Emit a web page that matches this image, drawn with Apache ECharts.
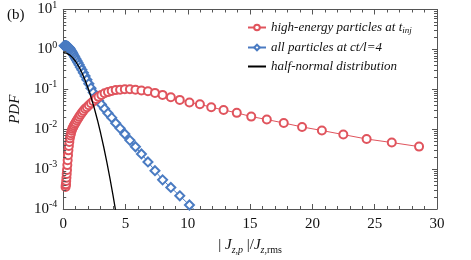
<!DOCTYPE html>
<html><head><meta charset="utf-8">
<script src="https://cdn.jsdelivr.net/npm/echarts@6/dist/echarts.min.js"></script>
<style>html,body{margin:0;padding:0;background:#fff}#c{width:471px;height:260px}</style>
</head><body><div id="c"></div>
<script>
// ---- data ----
const redX = [0.188,0.204,0.221,0.239,0.259,0.280,0.303,0.329,0.356,0.385,0.417,0.452,0.490,0.530,0.574,0.622,0.673,0.729,0.790,0.855,0.926,1.003,1.087,1.177,1.274,1.380,1.495,1.619,1.753,1.899,2.056,2.227,2.412,2.612,2.829,3.063,3.318,3.593,3.891,4.214,4.564,4.943,5.353,5.797,6.278,6.800,7.364,7.975,8.637,9.354,10.13,10.97,11.88,12.87,13.93,15.09,16.34,17.70,19.17,20.76,22.48,24.35,26.37,28.56];
const redPdf = [3.55e-4,3.98e-4,4.17e-4,5.01e-4,6.03e-4,7.59e-4,9.55e-4,1.26e-3,1.66e-3,2.24e-3,2.95e-3,3.80e-3,4.79e-3,5.89e-3,6.92e-3,7.94e-3,9.12e-3,1.02e-2,1.12e-2,1.23e-2,1.35e-2,1.48e-2,1.66e-2,1.82e-2,2.04e-2,2.29e-2,2.57e-2,2.88e-2,3.24e-2,3.55e-2,3.98e-2,4.47e-2,5.01e-2,5.75e-2,6.46e-2,7.24e-2,7.94e-2,8.51e-2,9.12e-2,9.55e-2,9.77e-2,0.100,0.100,0.0977,0.0933,0.0891,0.0813,0.0724,0.0631,0.0543,0.0469,0.0420,0.0356,0.0303,0.0257,0.0207,0.0175,0.0143,0.0114,0.00927,0.00733,0.00568,0.00463,0.00366];
const blueX = [0.092,0.099,0.108,0.117,0.126,0.137,0.148,0.160,0.174,0.188,0.204,0.221,0.239,0.259,0.280,0.303,0.329,0.356,0.385,0.417,0.452,0.490,0.530,0.574,0.622,0.673,0.729,0.790,0.855,0.926,1.003,1.087,1.177,1.274,1.380,1.495,1.619,1.753,1.899,2.056,2.227,2.412,2.612,2.829,3.063,3.318,3.593,3.891,4.214,4.564,4.943,5.353,5.797,6.278,6.800,7.364,7.975,8.637,9.354,10.13,10.97];
const bluePdf = [1.23,1.23,1.23,1.225,1.225,1.22,1.22,1.22,1.215,1.21,1.21,1.21,1.205,1.20,1.195,1.19,1.18,1.17,1.155,1.14,1.12,1.09,1.05,1.0,0.944,0.891,0.832,0.767,0.708,0.646,0.582,0.525,0.468,0.412,0.359,0.309,0.260,0.214,0.174,0.138,0.107,0.0832,0.0661,0.0525,0.0417,0.0324,0.0251,0.0195,0.0141,0.0105,0.00759,0.00525,0.00363,0.0024,0.00151,0.000912,0.000537,0.000347,0.000214,0.000126,0.0000708];
const halfNormX = [0,0.25,0.5,0.75,1.0,1.25,1.5,1.75,2.0,2.25,2.5,2.75,3.0,3.25,3.5,3.75,4.0,4.25];
const halfNormPdf = [0.832,0.805,0.731,0.622,0.497,0.372,0.261,0.171,0.106,0.0611,0.0331,0.0168,0.00802,0.00358,0.00150,0.000589,0.000217,0.0000748];
const xTicks = [0,5,10,15,20,25,30];
const yDecades = [1e-4,1e-3,1e-2,1e-1,1,10];
const seriesNames = ['high-energy particles at t_inj','all particles at ct/l=4','half-normal distribution'];

const SERIF = '"Liberation Serif","DejaVu Serif",serif';
const RED = '#e0545d', BLUE = '#4a7bc2', FRAME = '#555';

function zip(a,b){ return a.map((v,i)=>[v,b[i]]); }
const minorVals = [];
for (let d = 0; d < yDecades.length - 1; d++) for (let k = 2; k <= 9; k++) minorVals.push([0, yDecades[d]*k]);

const chart = echarts.init(document.getElementById('c'), null, {renderer:'canvas'});
const xCommon = {
  type:'value', min:xTicks[0], max:xTicks[xTicks.length-1], interval:xTicks[1]-xTicks[0],
  axisLine:{show:true, onZero:false, lineStyle:{color:FRAME, width:1}},
  axisTick:{show:true, inside:true, length:5, lineStyle:{color:FRAME}},
  minorTick:{show:true, splitNumber:5, length:3, lineStyle:{color:FRAME}},
  splitLine:{show:false}, minorSplitLine:{show:false}
};
const yCommon = {
  type:'log', logBase:10, min:yDecades[0], max:yDecades[yDecades.length-1],
  axisLine:{show:true, onZero:false, lineStyle:{color:FRAME, width:1}},
  axisTick:{show:true, inside:true, length:5, lineStyle:{color:FRAME}},
  splitLine:{show:false}
};
chart.setOption({
  animation:false,
  backgroundColor:'#fff',
  title:{text:'(b)', left:2, top:3, textStyle:{fontFamily:SERIF, fontSize:15, fontWeight:'normal', color:'#111'}},
  grid:{left:63, right:34, top:5, bottom:44},
  legend:{
    orient:'vertical', left:242, top:16, itemWidth:18, itemHeight:7, itemGap:6,
    data:[{name:seriesNames[0]},{name:seriesNames[1]},{name:seriesNames[2], itemStyle:{opacity:0}}],
    formatter:function(n){
      if (n === seriesNames[0]) return '{t|high-energy particles at t}{s|inj}';
      return '{t|' + n + '}';
    },
    textStyle:{fontFamily:SERIF, fontStyle:'italic', fontSize:13, color:'#111',
      rich:{t:{fontFamily:SERIF, fontStyle:'italic', fontSize:13, color:'#111'},
            s:{fontFamily:SERIF, fontStyle:'italic', fontSize:9, color:'#111', padding:[6,0,0,0]}}}
  },
  xAxis:[
    Object.assign({}, xCommon, {position:'bottom',
      axisLabel:{fontFamily:SERIF, fontSize:15, color:'#111', margin:8},
      name:'{n||}{i| J}{sb|z,p}{n| |/}{i|J}{sb|z,}{sr|rms}', nameLocation:'middle', nameGap:27,
      nameTextStyle:{fontFamily:SERIF, fontSize:15, color:'#111',
        rich:{n:{fontFamily:SERIF, fontSize:15, color:'#111'},
              i:{fontFamily:SERIF, fontStyle:'italic', fontSize:15, color:'#111'},
              sb:{fontFamily:SERIF, fontStyle:'italic', fontSize:10, color:'#111', padding:[9,0,0,0]},
              sr:{fontFamily:SERIF, fontSize:10, color:'#111', padding:[9,0,0,0]}}}}),
    Object.assign({}, xCommon, {position:'top', axisLabel:{show:false}})
  ],
  yAxis:[
    Object.assign({}, yCommon, {position:'left',
      axisLabel:{margin:6, color:'#111', formatter:function(v){
        const e = Math.round(Math.log10(v));
        return '{b|10}{s|' + e + '}';
      }, rich:{b:{fontFamily:SERIF, fontSize:15, color:'#111'},
               s:{fontFamily:SERIF, fontSize:10, color:'#111', padding:[0,0,9,0]}}},
      name:'PDF', nameLocation:'middle', nameGap:36, nameRotate:90,
      nameTextStyle:{fontFamily:SERIF, fontStyle:'italic', fontSize:15, color:'#111'}}),
    Object.assign({}, yCommon, {position:'right', axisLabel:{show:false}})
  ],
  series:[
    {name:seriesNames[0], type:'line', data:zip(redX, redPdf), symbol:'emptyCircle', symbolSize:8,
     lineStyle:{color:RED, width:1}, itemStyle:{color:RED, borderColor:RED, borderWidth:1}, z:3},
    {name:seriesNames[1], type:'line', data:zip(blueX, bluePdf), symbol:'emptyDiamond', symbolSize:9,
     lineStyle:{color:BLUE, width:1}, itemStyle:{color:BLUE, borderColor:BLUE, borderWidth:1}, z:2},
    {name:seriesNames[2], type:'line', data:zip(halfNormX, halfNormPdf), symbol:'none',
     lineStyle:{color:'#000', width:1.3}, itemStyle:{color:'#222'}, z:4},
    {name:'minorTicks', type:'custom', silent:true, data:minorVals, z:10,
     renderItem:function(params, api){
       const p = api.coord([0, api.value(1)]);
       const cs = params.coordSys;
       const y = Math.round(p[1]) + 0.5;
       return {type:'group', children:[
         {type:'line', shape:{x1:cs.x, y1:y, x2:cs.x+3, y2:y}, style:{stroke:FRAME, lineWidth:1}},
         {type:'line', shape:{x1:cs.x+cs.width-3, y1:y, x2:cs.x+cs.width, y2:y}, style:{stroke:FRAME, lineWidth:1}}
       ]};
     }}
  ]
});
</script></body></html>
